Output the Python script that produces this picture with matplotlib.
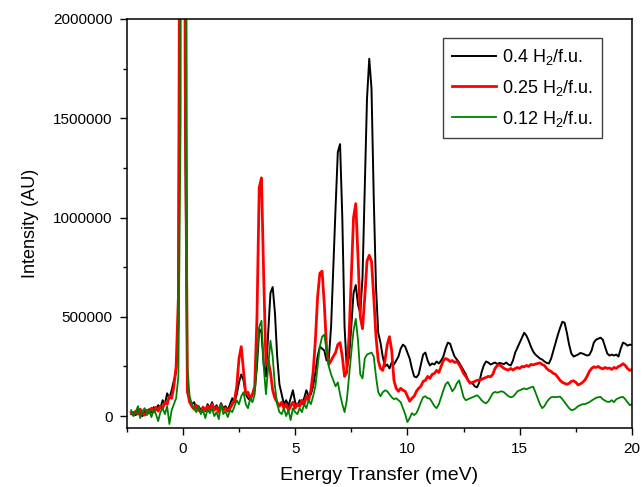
import matplotlib
matplotlib.use("Agg")
import matplotlib.pyplot as plt
from matplotlib.ticker import MultipleLocator

plt.rcParams['font.family'] = ['Liberation Sans', 'DejaVu Sans']

# energy transfer grid (meV)
energy = [
    -2.3, -2.2, -2.1, -2.0,
    -1.9, -1.8, -1.7, -1.6, -1.5, -1.4, -1.3, -1.2, -1.1, -1.0,
    -0.9, -0.8, -0.7, -0.6, -0.5, -0.4, -0.3, -0.2, -0.1, 0.0,
    0.1, 0.2, 0.3, 0.4, 0.5, 0.6, 0.7, 0.8, 0.9, 1.0,
    1.1, 1.2, 1.3, 1.4, 1.5, 1.6, 1.7, 1.8, 1.9, 2.0,
    2.1, 2.2, 2.3, 2.4, 2.5, 2.6, 2.7, 2.8, 2.9, 3.0,
    3.1, 3.2, 3.3, 3.4, 3.5, 3.6, 3.7, 3.8, 3.9, 4.0,
    4.1, 4.2, 4.3, 4.4, 4.5, 4.6, 4.7, 4.8, 4.9, 5.0,
    5.1, 5.2, 5.3, 5.4, 5.5, 5.6, 5.7, 5.8, 5.9, 6.0,
    6.1, 6.2, 6.3, 6.4, 6.5, 6.6, 6.7, 6.8, 6.9, 7.0,
    7.1, 7.2, 7.3, 7.4, 7.5, 7.6, 7.7, 7.8, 7.9, 8.0,
    8.1, 8.2, 8.3, 8.4, 8.5, 8.6, 8.7, 8.8, 8.9, 9.0,
    9.1, 9.2, 9.3, 9.4, 9.5, 9.6, 9.7, 9.8, 9.9, 10.0,
    10.1, 10.2, 10.3, 10.4, 10.5, 10.6, 10.7, 10.8, 10.9, 11.0,
    11.1, 11.2, 11.3, 11.4, 11.5, 11.6, 11.7, 11.8, 11.9, 12.0,
    12.1, 12.2, 12.3, 12.4, 12.5, 12.6, 12.7, 12.8, 12.9, 13.0,
    13.1, 13.2, 13.3, 13.4, 13.5, 13.6, 13.7, 13.8, 13.9, 14.0,
    14.1, 14.2, 14.3, 14.4, 14.5, 14.6, 14.7, 14.8, 14.9, 15.0,
    15.1, 15.2, 15.3, 15.4, 15.5, 15.6, 15.7, 15.8, 15.9, 16.0,
    16.1, 16.2, 16.3, 16.4, 16.5, 16.6, 16.7, 16.8, 16.9, 17.0,
    17.1, 17.2, 17.3, 17.4, 17.5, 17.6, 17.7, 17.8, 17.9, 18.0,
    18.1, 18.2, 18.3, 18.4, 18.5, 18.6, 18.7, 18.8, 18.9, 19.0,
    19.1, 19.2, 19.3, 19.4, 19.5, 19.6, 19.7, 19.8, 19.9, 20.0,
]

# intensities in units of 1000 AU
h2_040 = [
    10, 20, 5, 30,
    15, 0, 25, 10, 35, 20, 45, 30, 55, 40,
    80, 60, 115, 90, 130, 180, 220, 450, 4000, 12000,
    1500, 120, 80, 60, 70, 40, 50, 30, 45, 25,
    60, 40, 70, 35, 55, 30, 65, 40, 50, 30,
    60, 90, 70, 110, 170, 210, 180, 110, 90, 80,
    110, 130, 250, 440, 420, 260, 200, 420, 620, 650,
    520, 300, 160, 110, 60, 80, 50, 90, 130, 70,
    50, 80, 60, 90, 130, 100, 110, 150, 220, 300,
    350, 340, 330, 280, 290, 450, 750, 1050, 1330, 1370,
    1000, 450, 240, 300, 450, 620, 660, 560, 520, 700,
    1150, 1600, 1800, 1650, 1100, 650, 420, 370, 300, 250,
    260, 240, 270, 260, 280, 300, 340, 360, 350, 320,
    290, 240, 200, 195, 210, 260, 310, 320, 280, 255,
    265, 260, 275, 265, 280, 300, 340, 370, 365, 330,
    300, 285, 270, 250, 230, 210, 180, 170, 165, 150,
    145, 170, 220, 255, 275, 270, 260, 265, 270, 262,
    268, 265, 262, 270, 260, 255, 280, 320, 345, 370,
    395, 420, 405, 380, 350, 325, 310, 300, 290, 285,
    275, 268, 265, 290, 330, 370, 410, 445, 475, 470,
    420, 360, 315, 300, 305, 310, 318, 315, 310, 305,
    308, 330, 370, 385, 390, 395, 385, 350, 315, 305,
    310, 305, 310, 300, 340, 370, 365, 355, 360, 358,
]

h2_025 = [
    20, 5, 25, 10,
    35, 15, 5, 30, 15, 40, 20, 45, 25, 50,
    40, 70, 60, 100, 90, 150, 250, 600, 4000, 12000,
    1800, 130, 70, 50, 35, 55, 30, 20, 45, 30,
    50, 25, 60, 30, 45, 20, 55, 30, 40, 25,
    40, 60, 80, 150, 290, 350, 230, 110, 120, 90,
    110, 150, 500, 1150, 1200, 700, 260, 280, 220, 130,
    90, 70, 50, 70, 40, 60, 30, 50, 70, 40,
    60, 50, 80, 60, 100, 80, 130, 220, 380, 600,
    720, 730, 560, 340, 260, 280, 300, 320, 360, 370,
    300, 200, 220, 400, 700, 1000, 1070, 800, 500, 440,
    600, 780, 810, 780, 600, 400, 280, 240, 230, 280,
    360, 400, 330, 180, 140, 125, 140, 130, 125, 100,
    75, 90, 100, 125, 140, 150, 175, 180, 200, 190,
    210, 215, 230, 220, 250, 280, 290, 285, 275, 280,
    270, 275, 260, 240, 215, 200, 180, 165, 170, 175,
    180, 182, 185, 190, 195, 200, 198, 210, 240, 255,
    258, 250, 240, 235, 232, 240, 232, 240, 245, 240,
    250, 248, 255, 250, 260, 258, 262, 265, 268, 260,
    255, 240, 230, 225, 215, 210, 195, 180, 170, 165,
    160, 165, 175, 178, 170, 157, 162, 170, 181, 200,
    225, 240, 248, 245, 250, 242, 238, 245, 240, 242,
    235, 245, 240, 250, 255, 264, 255, 240, 230, 235,
]

h2_012 = [
    30, 0, 20, 50,
    -10, 25, 40, 5, 30, -5, 35, 10, -25, 20,
    40, 10, 50, -40, 30, 60, 90, 200, 1500, 10000,
    5000, 250, 100, 60, 40, 20, 50, 10, 30, -10,
    35, 15, 40, 0, 20, -15, 60, 10, 25, -5,
    30, 20, 50, 80, 60, 100, 120, 60, 40, 90,
    70, 110, 300, 450, 480, 250, 110, 250, 380, 300,
    150, 60, 20, 10, 40, 0, 30, -20, 40, 20,
    10, 40, 20, 60, 40, 80, 60, 100, 150, 250,
    350, 400, 410, 330, 250, 210, 180, 150, 170, 110,
    60, 20, 80, 200, 320, 430, 490, 380, 210, 190,
    290, 310, 315, 320, 300, 200, 120, 100, 120, 130,
    125, 110, 95, 85, 90, 80, 70, 40, 10, -30,
    -10, 15, 5, 15, 40, 70, 95, 100, 90, 88,
    70, 50, 40, 60, 95, 130, 160, 172, 150, 125,
    140, 165, 180, 140, 95, 80, 85, 90, 95, 100,
    105, 95, 80, 70, 64, 75, 95, 115, 122, 118,
    122, 125, 120, 110, 100, 95, 98, 110, 125, 130,
    135, 140, 135, 140, 145, 148, 120, 90, 60, 40,
    50, 70, 85, 95, 97, 95, 97, 98, 85, 70,
    55, 40, 30, 32, 40, 50, 55, 60, 60, 65,
    70, 78, 85, 92, 95, 97, 85, 78, 72, 72,
    80, 70, 85, 90, 95, 97, 85, 70, 55, 60,
]

labels = [r'0.4 H$\mathregular{_2}$/f.u.', r'0.25 H$\mathregular{_2}$/f.u.', r'0.12 H$\mathregular{_2}$/f.u.']
colors = ['#000000', '#ff0000', '#008000']
widths = [1.4, 2.0, 1.3]

fig = plt.figure(figsize=(6.42, 4.87), dpi=100)
ax = fig.add_axes([0.1974, 0.1211, 0.7870, 0.8399])

for series, lab, col, lw in zip([h2_040, h2_025, h2_012], labels, colors, widths):
    ax.plot(energy, [v * 1000 for v in series], color=col, lw=lw, label=lab)

ax.set_xlim(-2.5, 20)
ax.set_ylim(-60000, 2000000)
ax.xaxis.set_major_locator(MultipleLocator(5))
ax.xaxis.set_minor_locator(MultipleLocator(2.5))
ax.yaxis.set_major_locator(MultipleLocator(500000))
ax.yaxis.set_minor_locator(MultipleLocator(250000))
ax.ticklabel_format(axis='y', style='plain', useOffset=False)
ax.tick_params(which='both', direction='out', top=False, right=False, labelsize=11, width=1)
ax.tick_params(which='major', length=5, pad=5)
ax.tick_params(which='minor', length=3)
for sp in ax.spines.values():
    sp.set_linewidth(1.1)

ax.set_xlabel('Energy Transfer (meV)', fontsize=14, labelpad=8)
ax.set_ylabel('Intensity (AU)', fontsize=13, labelpad=10)

leg = ax.legend(loc='upper right', bbox_to_anchor=(0.941, 0.954), borderaxespad=0,
                fontsize=13, fancybox=False, edgecolor='#404040', handlelength=2.4,
                handletextpad=0.35, labelspacing=0.6, borderpad=0.5, framealpha=1)
leg.get_frame().set_linewidth(1.0)

fig.savefig('out.png', dpi=100)
